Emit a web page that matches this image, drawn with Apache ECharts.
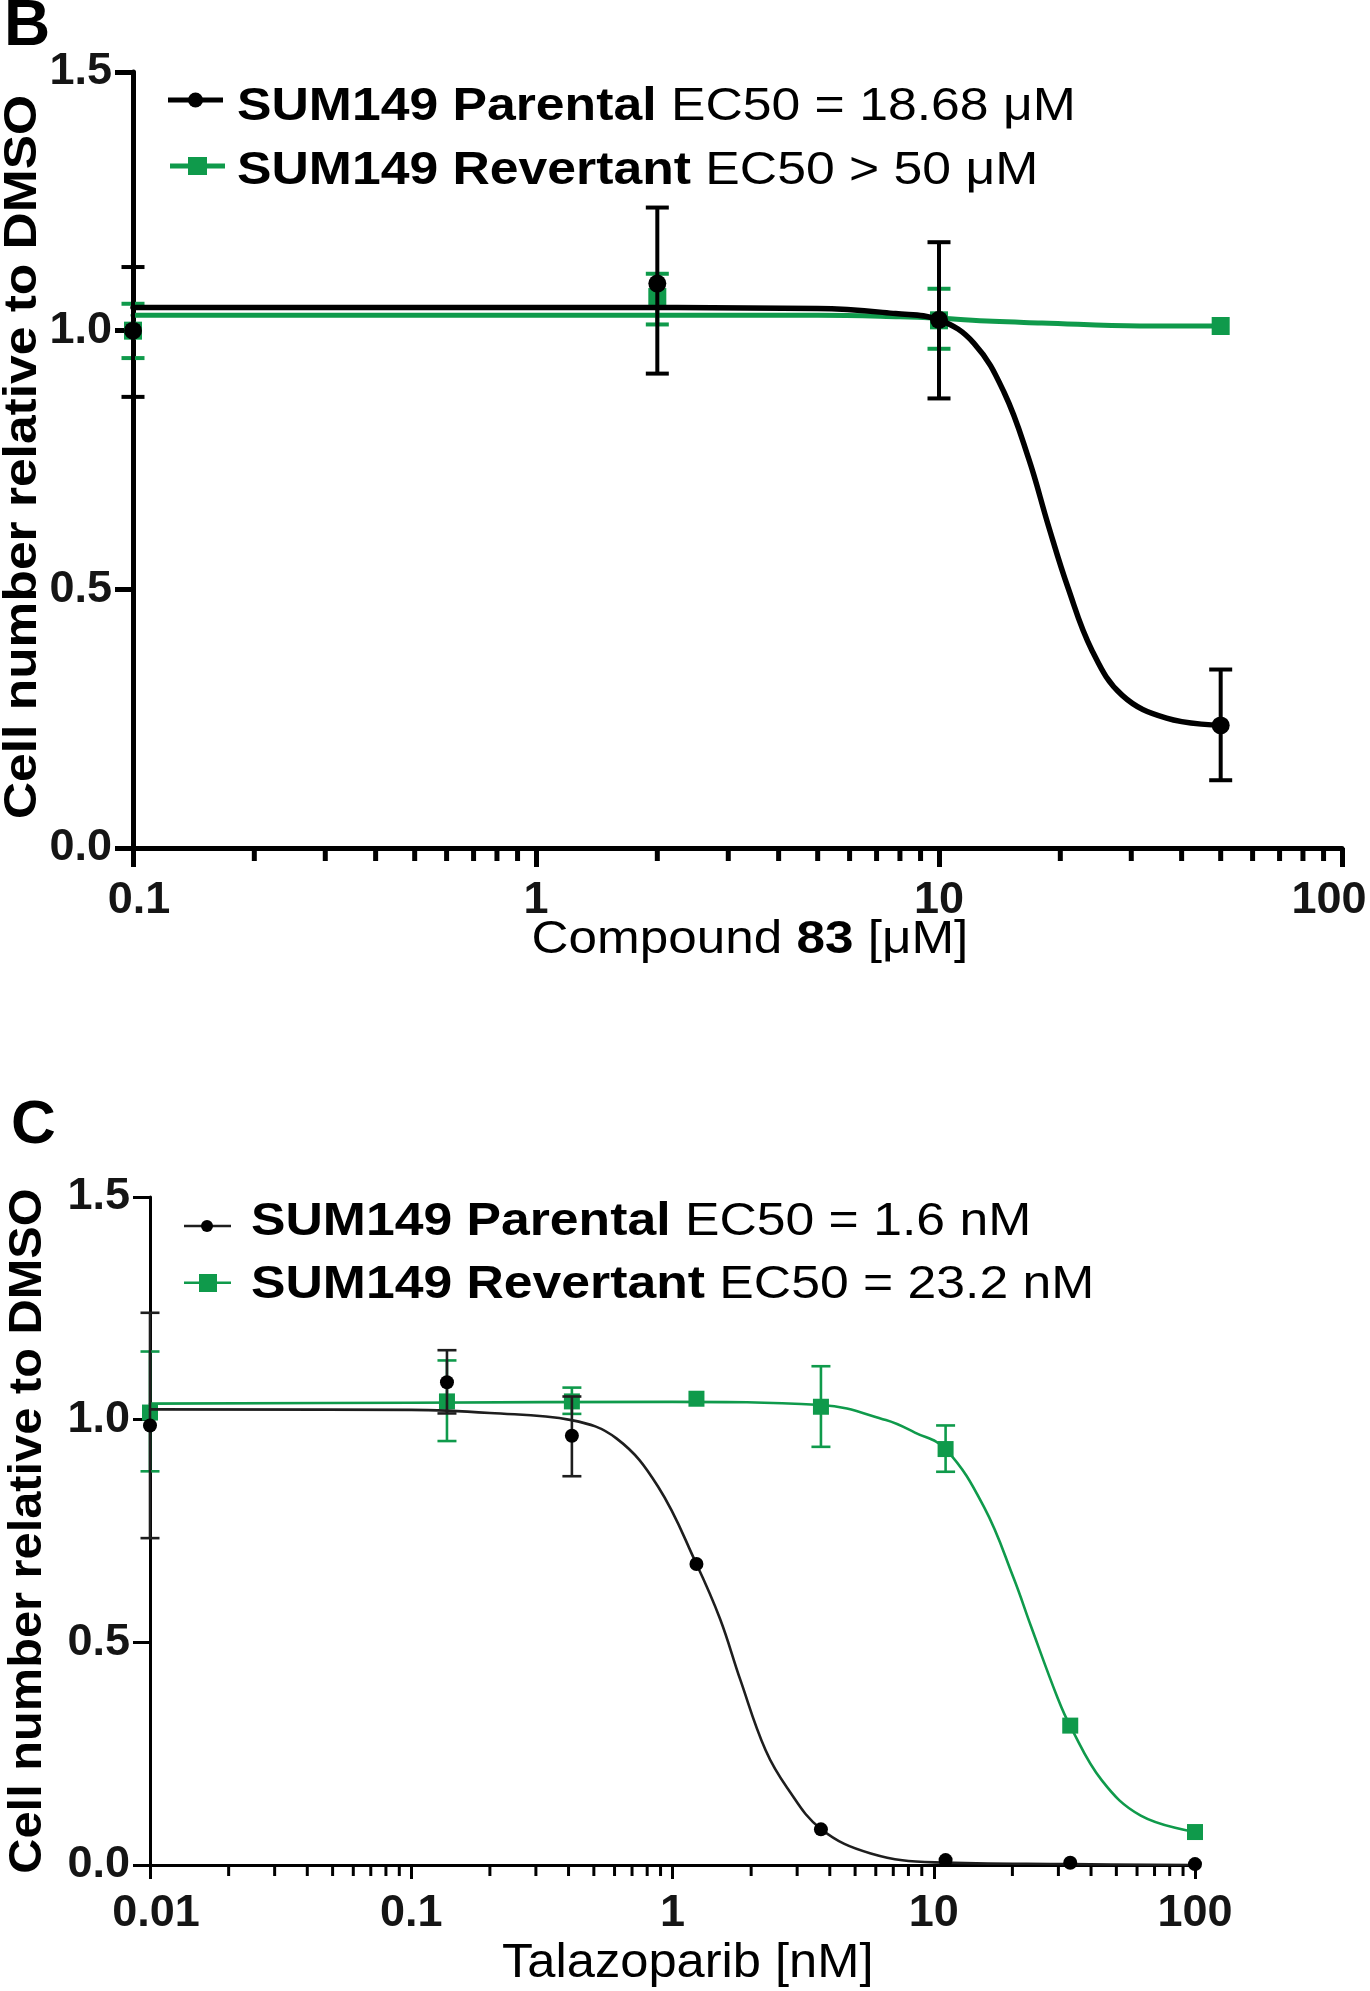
<!DOCTYPE html>
<html><head><meta charset="utf-8">
<script src="https://cdn.jsdelivr.net/npm/echarts@6/dist/echarts.min.js"></script>
<style>html,body{margin:0;padding:0;background:#fff}#c{width:1370px;height:1991px}</style>
</head><body><div id="c"></div>
<script>
// ---------------- Panel B : Compound 83 [uM] ----------------
const bDoses = [0.1, 2, 10, 50];
const bParentalMean = [1.000, 1.091, 1.021, 0.237];
const bParentalLow  = [0.872, 0.917, 0.869, 0.131];
const bParentalHigh = [1.123, 1.238, 1.171, 0.345];
const bRevertantMean = [1.000, 1.065, 1.020, 1.009];
const bRevertantLow  = [0.947, 1.012, 0.965, null];
const bRevertantHigh = [1.052, 1.110, 1.081, null];
const bParentalFitX = [0.1, 1, 5, 7.8, 10, 12.2, 14.5, 16.7, 18.7, 20.9, 24, 28.5, 36.7, 50];
const bParentalFitY = [1.045, 1.045, 1.043, 1.033, 1.021, 0.976, 0.881, 0.752, 0.622, 0.503, 0.381, 0.295, 0.251, 0.237];
const bRevertantFitX = [0.1, 1, 5, 8, 10, 13.6, 18, 31.5, 50];
const bRevertantFitY = [1.030, 1.030, 1.030, 1.027, 1.024, 1.018, 1.015, 1.009, 1.009];
const bXTickLabels = ['0.1', '1', '10', '100'];
const bYTickLabels = ['0.0', '0.5', '1.0', '1.5'];

// ---------------- Panel C : Talazoparib [nM] ----------------
const cDoses = [0.01, 0.137, 0.412, 1.235, 3.70, 11.1, 33.3, 100];
const cParentalMean = [0.987, 1.084, 0.964, 0.676, 0.080, 0.011, 0.005, 0.002];
const cParentalLow  = [0.734, 1.014, 0.873, null, null, null, null, null];
const cParentalHigh = [1.240, 1.156, 1.052, null, null, null, null, null];
const cRevertantMean = [1.016, 1.041, 1.041, 1.047, 1.029, 0.934, 0.313, 0.074];
const cRevertantLow  = [0.884, 0.952, 1.013, null, 0.939, 0.883, null, null];
const cRevertantHigh = [1.153, 1.133, 1.072, null, 1.120, 0.987, null, null];
const cParentalFitX = [0.01, 0.1, 0.2, 0.41, 0.61, 0.88, 1.235, 1.52, 1.82, 2.27, 2.75, 3.7, 5.74, 10.1, 33.3, 100];
const cParentalFitY = [1.023, 1.022, 1.015, 0.999, 0.958, 0.850, 0.676, 0.553, 0.415, 0.258, 0.173, 0.081, 0.026, 0.006, 0.002, 0.0];
const cRevertantFitX = [0.01, 0.1, 1, 3.7, 6.56, 8.47, 11.1, 15.6, 20.2, 23.6, 29.8, 33.3, 44, 62, 100];
const cRevertantFitY = [1.036, 1.038, 1.040, 1.033, 0.999, 0.971, 0.934, 0.803, 0.645, 0.535, 0.375, 0.312, 0.190, 0.111, 0.074];
const cXTickLabels = ['0.01', '0.1', '1', '10', '100'];
const cYTickLabels = ['0.0', '0.5', '1.0', '1.5'];

// ---------------- helpers ----------------
const FONT = "'Liberation Sans', Arial, Helvetica, sans-serif";
const GREEN = '#0f9a4b';
const BLACK = '#000000';
const CBLACK = '#1e1e1e';

const pairs = (xs, ys) => xs.map((x, i) => [x, ys[i]]);
const errs = (xs, lo, hi) => xs.map((x, i) => [x, lo[i], hi[i]]).filter(d => d[1] != null);
function minorValues(e0, e1) {
  const out = [];
  for (let e = e0; e < e1; e++) for (let d = 2; d <= 9; d++) out.push(+(d * Math.pow(10, e)).toPrecision(6));
  return out;
}
// tick label lookup; first / last labels get a small nudge like the original figure
function logLabel(labels, minExp, nudgeFirst, nudgeLast) {
  return v => {
    const i = Math.round(Math.log10(v)) - minExp;
    const t = labels[i] || '';
    if (i === 0 && nudgeFirst) return '{s|' + t + '}';
    if (i === labels.length - 1 && nudgeLast) return '{e|' + t + '}';
    return t;
  };
}
function linLabel(labels) {
  return v => labels[Math.round(v / 0.5)] || '';
}
function tickSeries(gi, values, len, width) {
  return {
    type: 'custom', xAxisIndex: gi, yAxisIndex: gi, clip: false, silent: true, z: 6,
    data: values.map(v => [v, 0]), encode: { x: 0, y: 1 },
    renderItem: (p, api) => {
      const c = api.coord([api.value(0), 0]);
      return { type: 'line', shape: { x1: c[0], y1: c[1], x2: c[0], y2: c[1] + len },
        style: { stroke: '#000', lineWidth: width } };
    }
  };
}
function errSeries(gi, data, color, width, cap, z) {
  return {
    type: 'custom', xAxisIndex: gi, yAxisIndex: gi, clip: false, silent: true, z: z,
    data: data, encode: { x: 0, y: [1, 2] },
    renderItem: (p, api) => {
      const x = api.value(0);
      const a = api.coord([x, api.value(1)]);
      const b = api.coord([x, api.value(2)]);
      const h = cap / 2;
      const st = { stroke: color, lineWidth: width };
      return { type: 'group', children: [
        { type: 'line', shape: { x1: a[0], y1: a[1], x2: b[0], y2: b[1] }, style: st },
        { type: 'line', shape: { x1: a[0] - h, y1: a[1], x2: a[0] + h, y2: a[1] }, style: st },
        { type: 'line', shape: { x1: b[0] - h, y1: b[1], x2: b[0] + h, y2: b[1] }, style: st }
      ] };
    }
  };
}
function curve(gi, data, color, width, z) {
  return { type: 'line', xAxisIndex: gi, yAxisIndex: gi, data: data, showSymbol: false, symbol: 'none',
    smooth: 0.4, silent: true, z: z,
    lineStyle: { color: color, width: width, join: 'round', cap: 'round' } };
}
function marks(gi, data, symbol, size, color, z) {
  return { type: 'scatter', xAxisIndex: gi, yAxisIndex: gi, data: data, symbol: symbol, symbolSize: size,
    clip: false, silent: true, z: z, itemStyle: { color: color, opacity: 1 } };
}
function xAxisCfg(gi, min, max, labels, minExp, lw, tickLen, margin, nudgeFirst, nudgeLast) {
  const base = { fontFamily: FONT, fontSize: 45, fontWeight: 'bold', color: '#151515' };
  return { type: 'log', logBase: 10, gridIndex: gi, min: min, max: max,
    axisLine: { show: true, onZero: false, lineStyle: { color: '#000', width: lw } },
    axisTick: { show: true, length: tickLen, lineStyle: { color: '#000', width: lw } },
    minorTick: { show: false }, splitLine: { show: false },
    axisLabel: Object.assign({}, base, { margin: margin,
      formatter: logLabel(labels, minExp, nudgeFirst, nudgeLast),
      rich: { s: Object.assign({}, base, { padding: [0, 0, 0, 12] }),
              e: Object.assign({}, base, { padding: [0, 26, 0, 0] }) } }) };
}
function yAxisCfg(gi, labels, lw, tickLen, margin) {
  return { type: 'value', gridIndex: gi, min: 0, max: 1.5, interval: 0.5,
    axisLine: { show: true, onZero: false, lineStyle: { color: '#000', width: lw } },
    axisTick: { show: true, length: tickLen, lineStyle: { color: '#000', width: lw } },
    splitLine: { show: false },
    axisLabel: { fontFamily: FONT, fontSize: 45, fontWeight: 'bold', color: '#151515', margin: margin,
      padding: [0, 0, 8, 0], formatter: linLabel(labels) } };
}
function richText(x, y, parts, size, sx) {
  return { type: 'text', x: x, y: y, scaleX: sx, silent: true,
    style: { text: parts.map(p => '{' + (p[1] ? 'b' : 'r') + '|' + p[0] + '}').join(''),
      fill: '#000', align: 'left', verticalAlign: 'middle',
      fontFamily: FONT, fontSize: size,
      rich: { b: { fontFamily: FONT, fontSize: size, fontWeight: 'bold', fill: '#000' },
              r: { fontFamily: FONT, fontSize: size, fontWeight: 'normal', fill: '#000' } } } };
}
function plainText(x, y, text, size, weight, sx, align, rot) {
  return { type: 'text', x: x, y: y, scaleX: sx, rotation: rot || 0, silent: true,
    style: { text: text, fill: '#000', align: align, verticalAlign: 'middle',
      fontFamily: FONT, fontSize: size, fontWeight: weight } };
}

const chart = echarts.init(document.getElementById('c'), null, { renderer: 'canvas' });
chart.setOption({
  backgroundColor: '#ffffff',
  animation: false,
  grid: [
    { left: 133, top: 72, width: 1209, height: 776, containLabel: false, outerBoundsMode: 'none' },
    { left: 150, top: 1197, width: 1045, height: 668, containLabel: false, outerBoundsMode: 'none' }
  ],
  xAxis: [
    xAxisCfg(0, 0.1, 100, bXTickLabels, -1, 5, 19, 30, true, true),
    xAxisCfg(1, 0.01, 100, cXTickLabels, -2, 3, 14, 26, true, false)
  ],
  yAxis: [
    yAxisCfg(0, bYTickLabels, 5, 18, 21),
    yAxisCfg(1, cYTickLabels, 3, 17, 20)
  ],
  series: [
    // panel B
    tickSeries(0, minorValues(-1, 2), 13, 5),
    curve(0, pairs(bRevertantFitX, bRevertantFitY), GREEN, 5, 3),
    errSeries(0, errs(bDoses, bRevertantLow, bRevertantHigh), GREEN, 4, 23, 4),
    marks(0, pairs(bDoses, bRevertantMean), 'rect', 18, GREEN, 5),
    curve(0, pairs(bParentalFitX, bParentalFitY), BLACK, 5.5, 6),
    errSeries(0, errs(bDoses, bParentalLow, bParentalHigh), BLACK, 4, 23, 7),
    marks(0, pairs(bDoses, bParentalMean), 'circle', 18, BLACK, 8),
    // panel C
    tickSeries(1, minorValues(-2, 2), 11, 3),
    curve(1, pairs(cRevertantFitX, cRevertantFitY), GREEN, 2.6, 3),
    errSeries(1, errs(cDoses, cRevertantLow, cRevertantHigh), GREEN, 2.6, 19, 4),
    marks(1, pairs(cDoses, cRevertantMean), 'rect', 16, GREEN, 5),
    curve(1, pairs(cParentalFitX, cParentalFitY), CBLACK, 2.6, 6),
    errSeries(1, errs(cDoses, cParentalLow, cParentalHigh), CBLACK, 2.6, 19, 7),
    marks(1, pairs(cDoses, cParentalMean), 'circle', 14, BLACK, 8)
  ],
  graphic: [
    // panel letters
    plainText(4, 27, 'B', 64, 'bold', 1, 'left'),
    plainText(11, 1125.5, 'C', 62, 'bold', 1, 'left'),
    // y-axis titles
    plainText(23.3, 457, 'Cell number relative to DMSO', 47, 'bold', 1.096, 'center', Math.PI / 2),
    plainText(28.3, 1531, 'Cell number relative to DMSO', 46, 'bold', 1.06, 'center', Math.PI / 2),
    // x-axis titles
    richText(531.6, 940, [['Compound ', false], ['83', true], [' [μM]', false]], 47, 1.09),
    plainText(502, 1964, 'Talazoparib [nM]', 48, 'normal', 1.055, 'left'),
    // legend B
    { type: 'line', silent: true, shape: { x1: 168, y1: 100, x2: 223, y2: 100 }, style: { stroke: BLACK, lineWidth: 5 } },
    { type: 'circle', silent: true, shape: { cx: 195.5, cy: 100, r: 7.5 }, style: { fill: BLACK } },
    { type: 'line', silent: true, shape: { x1: 170, y1: 166, x2: 225, y2: 166 }, style: { stroke: GREEN, lineWidth: 5 } },
    { type: 'rect', silent: true, shape: { x: 188, y: 157, width: 19, height: 18 }, style: { fill: GREEN } },
    richText(237, 107.5, [['SUM149 Parental', true], [' EC50 = 18.68 μM', false]], 47, 1.1),
    richText(237, 171.5, [['SUM149 Revertant', true], [' EC50 > 50 μM', false]], 47, 1.1),
    // legend C
    { type: 'line', silent: true, shape: { x1: 184, y1: 1226, x2: 231, y2: 1226 }, style: { stroke: CBLACK, lineWidth: 2.6 } },
    { type: 'circle', silent: true, shape: { cx: 207, cy: 1226, r: 6 }, style: { fill: BLACK } },
    { type: 'line', silent: true, shape: { x1: 184, y1: 1282.7, x2: 231, y2: 1282.7 }, style: { stroke: GREEN, lineWidth: 2.6 } },
    { type: 'rect', silent: true, shape: { x: 199, y: 1274, width: 18, height: 18 }, style: { fill: GREEN } },
    richText(251, 1222.5, [['SUM149 Parental', true], [' EC50 = 1.6 nM', false]], 47, 1.1),
    richText(251, 1285, [['SUM149 Revertant', true], [' EC50 = 23.2 nM', false]], 47, 1.1)
  ]
});
</script>
</body></html>
